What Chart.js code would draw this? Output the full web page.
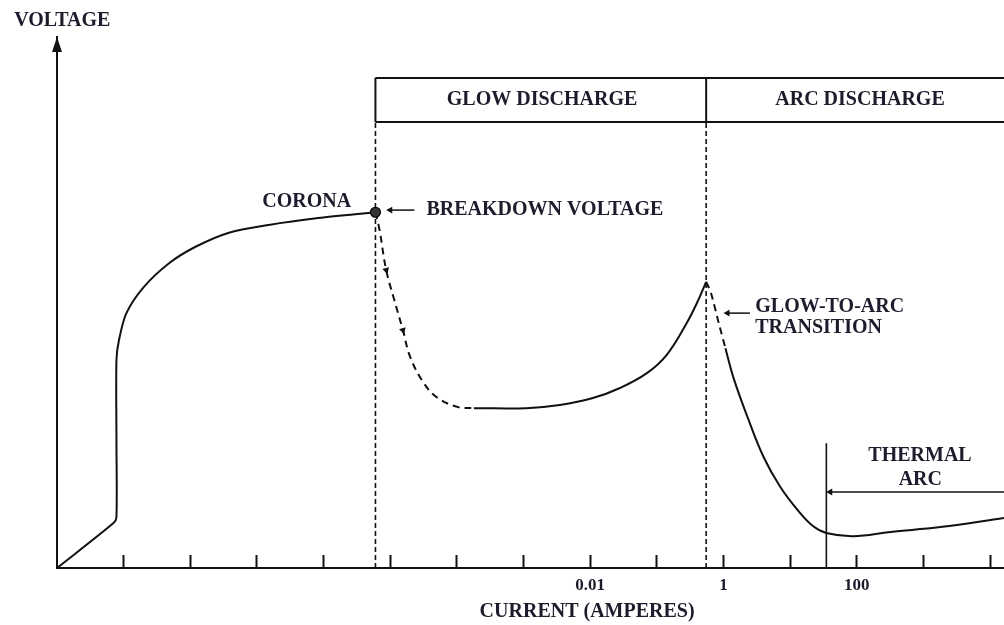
<!DOCTYPE html>
<html>
<head>
<meta charset="utf-8">
<script src="https://cdn.jsdelivr.net/npm/chart.js@4.4.0/dist/chart.umd.min.js"></script>
<style>
  html, body { margin: 0; padding: 0; background: #fff; }
  #wrap { width: 1004px; height: 625px; position: relative; }
</style>
</head>
<body>
<div id="wrap"><canvas id="vi"></canvas></div>
<script>
// current in amperes (log axis), voltage in relative units (0 = axis, 100 = arrow tip)
const coronaI = [1e-10, 7.1e-10, 7.8e-10, 7.8e-10, 7.8e-10, 8.5e-10, 1.1e-9, 2.0e-9, 4.8e-9, 1.2e-8, 3.7e-8, 1.5e-7, 8.3e-7, 6.0e-6];
const coronaV = [0, 8.5, 9.6, 24.1, 39.2, 42.9, 48.0, 52.9, 57.4, 60.5, 63.1, 64.6, 65.9, 67.0];

const breakdownI = [6.0e-6, 6.9e-6, 8.7e-6, 1.15e-5, 1.55e-5, 2.0e-5, 3.2e-5, 5.2e-5, 1.05e-4, 1.8e-4];
const breakdownV = [67.0, 63.7, 56.1, 50.5, 44.8, 39.7, 34.8, 32.0, 30.3, 30.1];

const glowI = [1.8e-4, 1.1e-3, 3.5e-3, 0.011, 0.028, 0.071, 0.14, 0.28, 0.40, 0.55];
const glowV = [30.1, 30.1, 30.7, 32.0, 33.9, 36.7, 40.1, 46.1, 49.9, 53.9];

const transitionI = [0.55, 0.65, 0.85, 1.07];
const transitionV = [53.9, 51.8, 46.1, 41.4];

const arcI = [1.07, 1.4, 2.3, 4.0, 7.1, 13, 22, 35, 89, 320, 1800, 16200];
const arcV = [41.4, 36.0, 28.4, 20.9, 15.3, 10.9, 7.9, 6.6, 6.0, 6.8, 7.7, 9.4];

// region boundaries
const breakdownCurrent = 6.0e-6;
const breakdownVoltage = 67.0;
const glowArcCurrent = 0.55;
const thermalCurrent = 35;
const maxCurrent = 16200;
const bandBottom = 84.0, bandTop = 92.3;
const thermalTop = 23.5;

// direction marks on the breakdown path
const flowI = [8.7e-6, 1.55e-5];
const flowV = [56.1, 44.8];
const flowAngle = [165, 163];

// axis ticks (one per decade)
const decadeTicks = [1e-9, 1e-8, 1e-7, 1e-6, 1e-5, 1e-4, 1e-3, 1e-2, 1e-1, 1, 10, 100, 1000, 10000];
const tickLabels = ['', '', '', '', '', '', '', '0.01', '', '1', '', '100', '', ''];

// text annotations
const labelText = ['VOLTAGE', 'CORONA', 'BREAKDOWN VOLTAGE', 'GLOW DISCHARGE', 'ARC DISCHARGE', 'GLOW-TO-ARC', 'TRANSITION', 'THERMAL', 'ARC', 'CURRENT (AMPERES)'];
const labelI = [1.2e-10, 2.6e-6, 3.5e-5, 1.9e-3, 112, 3.0, 3.0, 890, 900, 9e-3];
const labelV = [103, 68.9, 67.4, 88.1, 88.1, 49.2, 45.2, 21.1, 16.6, -8.3];
const labelAlign = ['center', 'right', 'left', 'center', 'center', 'left', 'left', 'center', 'center', 'center'];

// pointer arrows: [fromI, toI, voltage]
const pointerBreakdown = [2.3e-5, 1.0e-5, 67.4];
const pointerTransition = [2.5, 1.15, 48.0];
const pointerThermal = [maxCurrent, 40, 14.3];

const INK = '#111';
const TEXT = '#1c1c2c';
const FONT = '"Liberation Serif", "Times New Roman", serif';

function pts(xs, ys) { return xs.map((x, i) => ({ x, y: ys[i] })); }

function line(data, extra) {
  return Object.assign({
    data, showLine: true, borderColor: INK, borderWidth: 2,
    pointRadius: 0, tension: 0, fill: false
  }, extra || {});
}

function pointer(p) {
  return line(pts([p[0], p[1]], [p[2], p[2]]), {
    borderWidth: 1.5,
    pointRadius: [0, 4],
    pointStyle: 'triangle',
    rotation: -90,
    pointBackgroundColor: INK,
    pointBorderColor: INK,
    pointBorderWidth: 0
  });
}

const datasets = [
  // breakdown point
  { data: [{ x: breakdownCurrent, y: breakdownVoltage }], pointRadius: 5, pointBackgroundColor: '#333', pointBorderColor: '#000', pointBorderWidth: 1.2, showLine: false },
  // flow arrowheads on the dashed descent
  { data: pts(flowI, flowV), showLine: false, pointStyle: 'triangle', pointRadius: 4, rotation: flowAngle, pointBackgroundColor: INK, pointBorderColor: INK, pointBorderWidth: 0 },
  line(pts(coronaI, coronaV), { tension: 0.3 }),
  line(pts(breakdownI, breakdownV), { tension: 0.4, borderDash: [7, 5] }),
  line(pts(glowI, glowV), { tension: 0.4 }),
  line(pts(transitionI, transitionV), { tension: 0.2, borderDash: [7, 5] }),
  line(pts(arcI, arcV), { tension: 0.4 }),
  // region dividers
  line(pts([breakdownCurrent, breakdownCurrent], [0, bandBottom]), { borderWidth: 1.6, borderDash: [5, 3] }),
  line(pts([glowArcCurrent, glowArcCurrent], [0, bandBottom]), { borderWidth: 1.6, borderDash: [5, 3] }),
  // header band
  line(pts([breakdownCurrent, maxCurrent], [bandTop, bandTop])),
  line(pts([breakdownCurrent, maxCurrent], [bandBottom, bandBottom])),
  line(pts([breakdownCurrent, breakdownCurrent], [bandBottom, bandTop])),
  line(pts([glowArcCurrent, glowArcCurrent], [bandBottom, bandTop])),
  // thermal arc boundary
  line(pts([thermalCurrent, thermalCurrent], [0, thermalTop]), { borderWidth: 1.6 }),
  pointer(pointerThermal),
  pointer(pointerBreakdown),
  pointer(pointerTransition)
];

const annotate = {
  id: 'annotate',
  afterDraw(chart) {
    const { ctx, chartArea, scales: { x, y } } = chart;
    ctx.save();
    // arrowhead on the voltage axis
    const ax = chartArea.left, ay = chartArea.top;
    ctx.fillStyle = INK;
    ctx.beginPath();
    ctx.moveTo(ax, ay);
    ctx.lineTo(ax - 5, ay + 15);
    ctx.lineTo(ax + 5, ay + 15);
    ctx.closePath();
    ctx.fill();
    // labels
    ctx.fillStyle = TEXT;
    ctx.font = 'bold 20px ' + FONT;
    ctx.textBaseline = 'middle';
    labelText.forEach((t, i) => {
      ctx.textAlign = labelAlign[i];
      ctx.fillText(t, x.getPixelForValue(labelI[i]), y.getPixelForValue(labelV[i]));
    });
    ctx.restore();
  }
};

new Chart(document.getElementById('vi').getContext('2d'), {
  type: 'line',
  data: { datasets },
  options: {
    responsive: true,
    maintainAspectRatio: false,
    animation: false,
    layout: { autoPadding: false, padding: { left: 0, right: 0, top: 37, bottom: 0 } },
    plugins: { legend: { display: false }, tooltip: { enabled: false } },
    scales: {
      x: {
        type: 'logarithmic',
        min: 1e-10,
        max: maxCurrent,
        afterBuildTicks: s => { s.ticks = decadeTicks.map(v => ({ value: v })); },
        afterFit: s => { s.height = 57; s.paddingLeft = 0; s.paddingRight = 0; },
        ticks: {
          autoSkip: false,
          maxRotation: 0,
          padding: 20,
          color: TEXT,
          font: { family: FONT, size: 17, weight: 'bold' },
          callback: (v, i) => tickLabels[i] ?? ''
        },
        grid: { display: true, drawOnChartArea: false, drawTicks: true, tickLength: -13, tickColor: INK, tickWidth: 2 },
        border: { display: true, color: INK, width: 2 }
      },
      y: {
        type: 'linear',
        min: 0,
        max: 100,
        afterFit: s => { s.width = 57; },
        ticks: { display: false },
        grid: { display: false, drawTicks: false },
        border: { display: true, color: INK, width: 2 }
      }
    }
  },
  plugins: [annotate]
});
</script>
</body>
</html>
